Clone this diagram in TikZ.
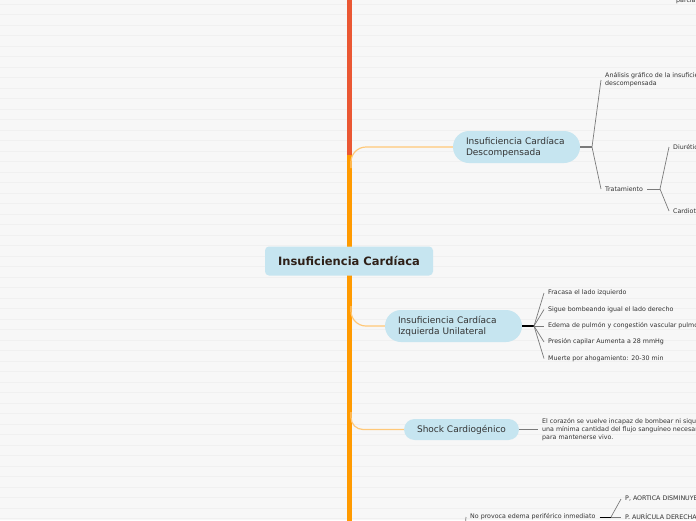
\documentclass[tikz,border=0pt]{standalone}
\usepackage{fontspec}
\setmainfont{DejaVu Sans}
\setsansfont{DejaVu Sans}
\usetikzlibrary{positioning, calc}
\definecolor{PaperGrey}{HTML}{F7F7F7}
\definecolor{StripeGrey}{HTML}{F0F0F0}
\definecolor{TrunkRed}{HTML}{EA5733}
\definecolor{TrunkOrange}{HTML}{FF9A00}
\definecolor{BranchOrange}{HTML}{FFC878}
\definecolor{PillBlue}{HTML}{C6E5F0}
\definecolor{InkDark}{HTML}{333333}
\definecolor{RootInk}{HTML}{2E2018}
\definecolor{TwigGrey}{HTML}{7A7A7A}

\begin{document}
\begin{tikzpicture}[
    x=1pt, y=-1pt,
    font=\sffamily,
    topic/.style={fill=PillBlue, rounded corners=16pt, minimum height=32pt,
        inner xsep=13pt, inner ysep=0pt, align=left, text=InkDark,
        font=\sffamily\fontsize{9}{11}\selectfont},
    leaf/.style={inner xsep=4pt, inner ysep=0pt, anchor=west, align=left,
        text=InkDark, font=\sffamily\fontsize{6.3}{8}\selectfont},
    twig/.style={draw=TwigGrey, line width=0.7pt},
    limb/.style={draw=BranchOrange, line width=1.2pt, rounded corners=15pt},
]

% ---- fondo ----
\useasboundingbox (0,0) rectangle (696,520);
\clip (0,0) rectangle (696,520);
\fill[PaperGrey] (0,0) rectangle (696,520);
\foreach \i in {0,...,49}
    \draw[StripeGrey, line width=0.5pt] (0,\i*10.5+4) -- (696,\i*10.5+4);

% ---- tronco ----
\draw[TrunkRed, line width=5pt] (349,-5) -- (349,158);
\draw[TrunkOrange, line width=5pt] (349,155) -- (349,530);
\coordinate (t1) at (351,168);
\coordinate (t2) at (351,306);
\coordinate (t3) at (351,412);

\node[fill=PillBlue, rounded corners=4pt, minimum width=168pt, minimum height=29pt,
    text=RootInk, font=\sffamily\bfseries\fontsize{11.5}{13}\selectfont]
    (root) at (349,261) {Insuficiencia Cardíaca};

% ---- descompensada ----
\node[topic, text width=101pt] (desc) at (516.5,147)
    {Insuficiencia Cardíaca\\Descompensada};
\draw[limb] (t1) |- (desc.west);
\coordinate (descfork) at (592,147);
\draw[twig, line width=1.2pt] (desc.east) -- (descfork);
\node[leaf] (ana) at (601,80)
    {Análisis gráfico de la insuficiencia cardíaca\\descompensada};
\node[leaf] (trat) at (601,189) {Tratamiento};
\draw[twig] (descfork) -- (ana.west);
\draw[twig] (descfork) -- (trat.west);
\coordinate (tratfork) at (660,189);
\draw[twig] (trat.east) -- (tratfork);
\node[leaf] (diu) at (669,147) {Diuréticos};
\node[leaf] (card) at (669,211) {Cardiotónicos};
\draw[twig] (tratfork) -- (diu.west);
\draw[twig] (tratfork) -- (card.west);
\node[leaf, anchor=base west] (parc) at (672,2) {parcial};

% ---- izquierda unilateral ----
\node[topic, text width=111pt] (izq) at (453.5,326)
    {Insuficiencia Cardíaca\\Izquierda Unilateral};
\draw[limb] (t2) |- (izq.west);
\coordinate (izqfork) at (534,326);
\draw[black, line width=1.2pt] (izq.east) -- (izqfork);
\foreach \y/\txt [count=\k] in {%
    293/Fracasa el lado izquierdo,
    309.5/Sigue bombeando igual el lado derecho,
    326/Edema de pulmón y congestión vascular pulmonar,
    342/Presión capilar Aumenta a 28 mmHg,
    358.5/Muerte por ahogamiento: 20-30 min}{
    \node[leaf] (izq\k) at (544,\y) {\txt};
    \draw[twig] (izqfork) -- (izq\k.west);
}

% ---- shock ----
\node[topic, minimum height=21pt, rounded corners=10.5pt] (shock) at (461.5,429.5)
    {Shock Cardiogénico};
\draw[limb, rounded corners=12pt] (t3) |- (shock.west);
\node[leaf] (shk) at (538,429.5)
    {El corazón se vuelve incapaz de bombear ni siquiera\\
     una mínima cantidad del flujo sanguíneo necesario\\
     para mantenerse vivo.};
\draw[twig] (shock.east) -- (shk.west);

% ---- abajo ----
\coordinate (nofeed) at (462,560);
\node[leaf] (noed) at (466,517) {No provoca edema periférico inmediato};
\draw[twig] (nofeed) -- (noed.west);
\coordinate (nofork) at (611,517);
\draw[black, line width=0.9pt] (noed.east) -- (nofork);
\node[leaf] (aort) at (621,499) {P, AORTICA DISMINUYE};
\node[leaf] (auri) at (621,517) {P. AURÍCULA DERECHA AUMENTA};
\draw[twig] (nofork) -- (aort.west);
\draw[twig] (nofork) -- (auri.west);

\end{tikzpicture}
\end{document}
